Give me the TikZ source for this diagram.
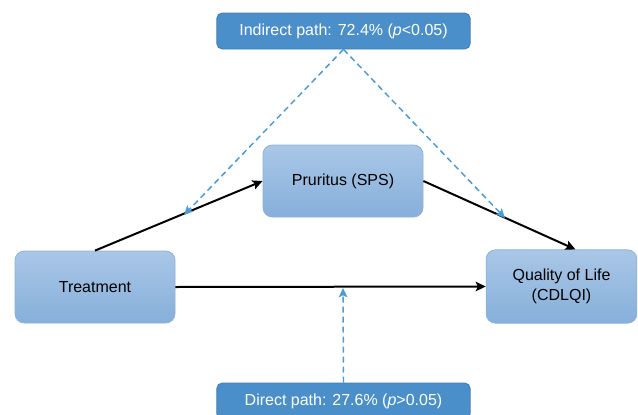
\documentclass[tikz,border=0pt]{standalone}
\usepackage{fontspec}
\setmainfont{Liberation Sans}
\usetikzlibrary{%
  arrows,%
  arrows.meta,%
  shapes,%
  positioning,% wg. " of "
  calc
}
\definecolor{boxtop}{HTML}{A9C7E7}
\definecolor{boxbot}{HTML}{86AFDA}
\definecolor{boxline}{HTML}{8CB2DB}
\definecolor{labfill}{HTML}{4A8FC9}
\definecolor{labline}{HTML}{3F7DB4}
\definecolor{dashblue}{HTML}{4B9BD8}
\begin{document}
\begin{tikzpicture}[
  x=0.75pt, y=-0.75pt,
  font=\fontsize{12}{14.5}\selectfont, >={Stealth[length=7.5pt,width=7pt,inset=1.5pt]}, line width=1.5pt,
  var/.style={rectangle, minimum height=54pt, minimum width=120pt, draw=boxline, line width=0.6pt, top color=boxtop, bottom color=boxbot, rounded corners=7pt, align=center},
  pathlabel/.style={rectangle, minimum height=27pt, minimum width=190pt, draw=labline, line width=0.6pt, fill=labfill, text=white, rounded corners=4pt},
  effect/.style={->, draw=black, line width=1.5pt},
  share/.style={-{Stealth[length=7pt,width=6.5pt,inset=1.5pt]}, draw=dashblue, line width=1.1pt, dash pattern=on 4.5pt off 3pt}
]
\useasboundingbox (0,0) rectangle (638,414);

\node[var] (treat) at (95,287) {Treatment};
\node[var] (prur) at (343,181) {Pruritus (SPS)};
\node[var, minimum width=113pt, minimum height=55pt] (qol) at (561.5,286.5) {Quality of Life\\(CDLQI)};

\node[pathlabel] (ind) at (343.5,31) {Indirect path: 72.4\% (\textit{p}<0.05)};
\node[pathlabel] (dir) at (343.5,401) {Direct path: 27.6\% (\textit{p}>0.05)};

\coordinate (indA) at (184,215);
\coordinate (indB) at (505,218);
\coordinate (dirA) at (343,288);

\draw[effect] (treat.north) -- (prur.west);
\draw[effect] (prur.east) -- ([xshift=10.5pt]qol.north);
\draw[effect] (treat.east) -- (qol.west);

\draw[share] (ind.south) -- (indA);
\draw[share] (ind.south) -- (indB);
\draw[share] (dir.north) -- (dirA);
\end{tikzpicture}
\end{document}
